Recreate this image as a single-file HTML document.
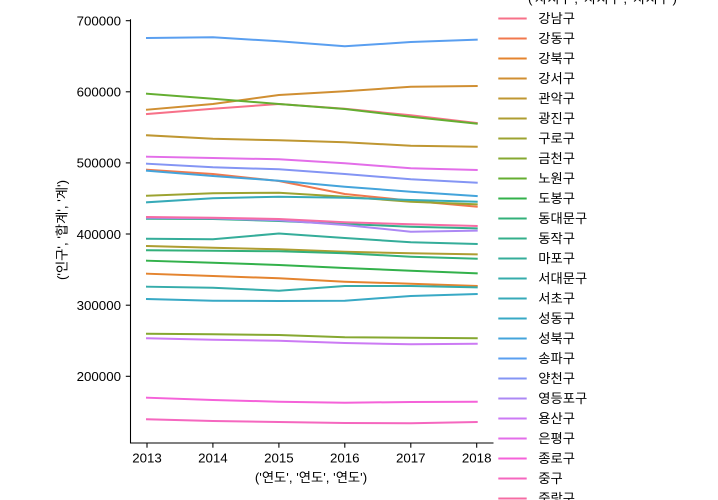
<!DOCTYPE html>
<html>
<head>
<meta charset="utf-8">
<style>
html,body{margin:0;padding:0;background:#fff;}
svg{display:block;}
text{font-family:"Liberation Sans","Noto Sans CJK KR",sans-serif;font-size:13.3px;fill:#000;}
</style>
</head>
<body>
<svg width="718" height="500" viewBox="0 0 718 500" xmlns="http://www.w3.org/2000/svg">
<rect width="718" height="500" fill="#fff"/>
<g fill="none" stroke-width="2" stroke-linejoin="round" stroke-linecap="square">
<polyline stroke="#f77189" points="147,114 212.9,108.7 278.9,104 344.8,108.7 410.8,115.3 476.7,123"/>
<polyline stroke="#f1784d" points="147,169.7 212.9,174 278.9,181 344.8,194 410.8,200.7 476.7,206.7"/>
<polyline stroke="#e4842f" points="147,273.7 212.9,276 278.9,278.3 344.8,281.7 410.8,283.7 476.7,286"/>
<polyline stroke="#d08f32" points="147,109.7 212.9,104 278.9,95 344.8,91.3 410.8,86.7 476.7,86"/>
<polyline stroke="#bf9732" points="147,135.3 212.9,138.7 278.9,140.3 344.8,142.3 410.8,145.7 476.7,146.7"/>
<polyline stroke="#ae9d31" points="147,246 212.9,247.7 278.9,249.3 344.8,251.7 410.8,253.3 476.7,254.3"/>
<polyline stroke="#9ca331" points="147,195.7 212.9,193.3 278.9,192.7 344.8,196.7 410.8,201.7 476.7,204.3"/>
<polyline stroke="#86a831" points="147,333.7 212.9,334.3 278.9,335 344.8,337.3 410.8,337.7 476.7,338.3"/>
<polyline stroke="#64ae31" points="147,93.7 212.9,98.7 278.9,104 344.8,109 410.8,116.7 476.7,123.7"/>
<polyline stroke="#33b14b" points="147,260.7 212.9,262.7 278.9,265 344.8,268 410.8,270.7 476.7,273.3"/>
<polyline stroke="#33b07a" points="147,250.3 212.9,250.7 278.9,251.3 344.8,253.3 410.8,256.7 476.7,258.7"/>
<polyline stroke="#34af8b" points="147,218.7 212.9,219 278.9,221 344.8,224 410.8,226.7 476.7,228.3"/>
<polyline stroke="#35ad9a" points="147,238.7 212.9,239.3 278.9,233.5 344.8,238 410.8,242.3 476.7,244"/>
<polyline stroke="#36acab" points="147,286.7 212.9,287.7 278.9,290.7 344.8,286 410.8,286 476.7,287.3"/>
<polyline stroke="#37aab8" points="147,202.3 212.9,198.3 278.9,196.7 344.8,197.7 410.8,200 476.7,201.7"/>
<polyline stroke="#38a9c5" points="147,299 212.9,300.7 278.9,301 344.8,300.7 410.8,296 476.7,294"/>
<polyline stroke="#44a4db" points="147,170.7 212.9,176 278.9,180.7 344.8,186.7 410.8,191.7 476.7,196"/>
<polyline stroke="#5a9ff0" points="147,38 212.9,37.3 278.9,41.3 344.8,46.3 410.8,42 476.7,39.7"/>
<polyline stroke="#8495f4" points="147,163.7 212.9,167.3 278.9,169.3 344.8,174 410.8,179.3 476.7,182.7"/>
<polyline stroke="#ac88f4" points="147,217.7 212.9,218.3 278.9,220.3 344.8,225 410.8,231.7 476.7,230.7"/>
<polyline stroke="#cc7af4" points="147,338.3 212.9,339.7 278.9,340.7 344.8,343 410.8,344.3 476.7,343.7"/>
<polyline stroke="#e36ee9" points="147,156.7 212.9,158 278.9,159.3 344.8,163.3 410.8,168.3 476.7,170"/>
<polyline stroke="#f562d9" points="147,397.7 212.9,400 278.9,401.7 344.8,402.7 410.8,402 476.7,401.7"/>
<polyline stroke="#f567bf" points="147,419.3 212.9,421 278.9,422 344.8,423 410.8,423.3 476.7,422"/>
<polyline stroke="#f66ca4" points="147,217 212.9,217.7 278.9,219 344.8,222.3 410.8,224.3 476.7,226"/>
</g>
<!-- spines -->
<g stroke="#000" stroke-width="1.07" fill="none">
<line x1="130.5" y1="19.3" x2="130.5" y2="443.3"/>
<line x1="130" y1="443" x2="493.5" y2="443"/>
<!-- y ticks -->
<line x1="125.8" y1="376.3" x2="130.5" y2="376.3"/>
<line x1="125.8" y1="305.2" x2="130.5" y2="305.2"/>
<line x1="125.8" y1="234" x2="130.5" y2="234"/>
<line x1="125.8" y1="162.9" x2="130.5" y2="162.9"/>
<line x1="125.8" y1="91.8" x2="130.5" y2="91.8"/>
<line x1="125.8" y1="20.7" x2="130.5" y2="20.7"/>
<!-- x ticks -->
<line x1="147" y1="443" x2="147" y2="447.7"/>
<line x1="212.9" y1="443" x2="212.9" y2="447.7"/>
<line x1="278.9" y1="443" x2="278.9" y2="447.7"/>
<line x1="344.8" y1="443" x2="344.8" y2="447.7"/>
<line x1="410.8" y1="443" x2="410.8" y2="447.7"/>
<line x1="476.7" y1="443" x2="476.7" y2="447.7"/>
</g>
<g text-anchor="end">
<text x="121" y="381.1">200000</text>
<text x="121" y="310">300000</text>
<text x="121" y="238.8">400000</text>
<text x="121" y="167.7">500000</text>
<text x="121" y="96.6">600000</text>
<text x="121" y="25.5">700000</text>
</g>
<g text-anchor="middle">
<text x="147" y="462.3">2013</text>
<text x="212.9" y="462.3">2014</text>
<text x="278.9" y="462.3">2015</text>
<text x="344.8" y="462.3">2016</text>
<text x="410.8" y="462.3">2017</text>
<text x="476.7" y="462.3">2018</text>
<text x="311" y="482">('연도', '연도', '연도')</text>
<text transform="translate(66.5,230) rotate(-90)">('인구', '합계', '계')</text>
</g>
<!-- legend -->
<text x="528" y="3.2">('자치구', '자치구', '자치구')</text>
<g stroke-width="2">
<line x1="498.3" x2="526.7" y1="18.5" y2="18.5" stroke="#f77189"/>
<line x1="498.3" x2="526.7" y1="38.5" y2="38.5" stroke="#f1784d"/>
<line x1="498.3" x2="526.7" y1="58.5" y2="58.5" stroke="#e4842f"/>
<line x1="498.3" x2="526.7" y1="78.5" y2="78.5" stroke="#d08f32"/>
<line x1="498.3" x2="526.7" y1="98.5" y2="98.5" stroke="#bf9732"/>
<line x1="498.3" x2="526.7" y1="118.5" y2="118.5" stroke="#ae9d31"/>
<line x1="498.3" x2="526.7" y1="138.5" y2="138.5" stroke="#9ca331"/>
<line x1="498.3" x2="526.7" y1="158.5" y2="158.5" stroke="#86a831"/>
<line x1="498.3" x2="526.7" y1="178.5" y2="178.5" stroke="#64ae31"/>
<line x1="498.3" x2="526.7" y1="198.5" y2="198.5" stroke="#33b14b"/>
<line x1="498.3" x2="526.7" y1="218.5" y2="218.5" stroke="#33b07a"/>
<line x1="498.3" x2="526.7" y1="238.5" y2="238.5" stroke="#34af8b"/>
<line x1="498.3" x2="526.7" y1="258.5" y2="258.5" stroke="#35ad9a"/>
<line x1="498.3" x2="526.7" y1="278.5" y2="278.5" stroke="#36acab"/>
<line x1="498.3" x2="526.7" y1="298.5" y2="298.5" stroke="#37aab8"/>
<line x1="498.3" x2="526.7" y1="318.5" y2="318.5" stroke="#38a9c5"/>
<line x1="498.3" x2="526.7" y1="338.5" y2="338.5" stroke="#44a4db"/>
<line x1="498.3" x2="526.7" y1="358.5" y2="358.5" stroke="#5a9ff0"/>
<line x1="498.3" x2="526.7" y1="378.5" y2="378.5" stroke="#8495f4"/>
<line x1="498.3" x2="526.7" y1="398.5" y2="398.5" stroke="#ac88f4"/>
<line x1="498.3" x2="526.7" y1="418.5" y2="418.5" stroke="#cc7af4"/>
<line x1="498.3" x2="526.7" y1="438.5" y2="438.5" stroke="#e36ee9"/>
<line x1="498.3" x2="526.7" y1="458.5" y2="458.5" stroke="#f562d9"/>
<line x1="498.3" x2="526.7" y1="478.5" y2="478.5" stroke="#f567bf"/>
<line x1="498.3" x2="526.7" y1="498.5" y2="498.5" stroke="#f66ca4"/>
</g>
<g>
<text x="538.3" y="23.2">강남구</text>
<text x="538.3" y="43.2">강동구</text>
<text x="538.3" y="63.2">강북구</text>
<text x="538.3" y="83.2">강서구</text>
<text x="538.3" y="103.2">관악구</text>
<text x="538.3" y="123.2">광진구</text>
<text x="538.3" y="143.2">구로구</text>
<text x="538.3" y="163.2">금천구</text>
<text x="538.3" y="183.2">노원구</text>
<text x="538.3" y="203.2">도봉구</text>
<text x="538.3" y="223.2">동대문구</text>
<text x="538.3" y="243.2">동작구</text>
<text x="538.3" y="263.2">마포구</text>
<text x="538.3" y="283.2">서대문구</text>
<text x="538.3" y="303.2">서초구</text>
<text x="538.3" y="323.2">성동구</text>
<text x="538.3" y="343.2">성북구</text>
<text x="538.3" y="363.2">송파구</text>
<text x="538.3" y="383.2">양천구</text>
<text x="538.3" y="403.2">영등포구</text>
<text x="538.3" y="423.2">용산구</text>
<text x="538.3" y="443.2">은평구</text>
<text x="538.3" y="463.2">종로구</text>
<text x="538.3" y="483.2">중구</text>
<text x="538.3" y="503.2">중랑구</text>
</g>
</svg>
</body>
</html>
